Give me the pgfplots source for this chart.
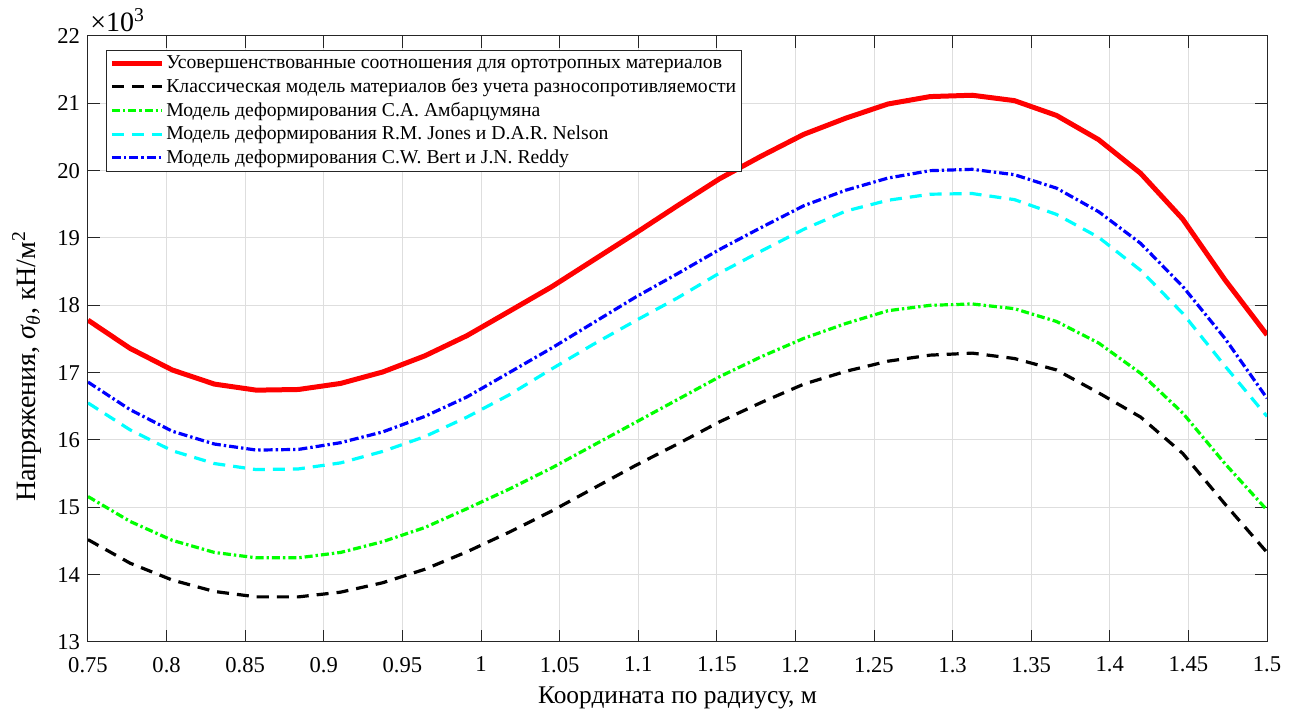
\documentclass[border=0pt]{standalone}
\usepackage{pgfplots}
\usepackage{pgfplotstable}
\pgfplotsset{compat=1.18}
\usepackage{fontspec}
\setmainfont{Liberation Serif}

\definecolor{mred}{rgb}{1,0,0}
\definecolor{mgreen}{rgb}{0,1,0}
\definecolor{mcyan}{rgb}{0,1,1}
\definecolor{mblue}{rgb}{0,0,1}

\pgfplotstableread{
x      red    black  green  cyan   blue
0.7500 17780  14520  15160  16550  16860
0.7768 17360  14170  14790  16150  16450
0.8036 17040  13920  14510  15840  16130
0.8304 16830  13750  14330  15650  15940
0.8571 16740  13670  14250  15560  15850
0.8839 16750  13670  14250  15570  15860
0.9107 16840  13740  14330  15660  15960
0.9375 17010  13880  14490  15830  16120
0.9643 17250  14080  14700  16050  16350
0.9911 17550  14340  14980  16340  16640
1.0179 17910  14630  15270  16670  17000
1.0446 18270  14940  15580  17050  17360
1.0714 18670  15280  15920  17420  17740
1.0982 19070  15620  16260  17770  18120
1.1250 19480  15940  16600  18110  18470
1.1518 19880  16270  16940  18480  18830
1.1786 20220  16560  17240  18810  19160
1.2054 20540  16830  17510  19130  19480
1.2321 20780  17020  17730  19400  19710
1.2589 20990  17170  17920  19560  19890
1.2857 21100  17260  18000  19650  20000
1.3125 21120  17290  18020  19660  20020
1.3393 21040  17210  17950  19570  19940
1.3661 20820  17040  17760  19350  19740
1.3929 20460  16700  17440  19010  19390
1.4196 19960  16340  16990  18520  18920
1.4464 19280  15800  16400  17880  18280
1.4732 18380  15050  15650  17100  17510
1.5000 17560  14330  14960  16350  16620
}\datatable

\begin{document}
\begin{tikzpicture}
\begin{axis}[
  scale only axis,
  width=589.5pt, height=303pt,
  xmin=0.75, xmax=1.5, ymin=13000, ymax=22000,
  xtick={0.75,0.8,0.85,0.9,0.95,1,1.05,1.1,1.15,1.2,1.25,1.3,1.35,1.4,1.45,1.5},
  xticklabels={0.75,0.8,0.85,0.9,0.95,1,1.05,1.1,1.15,1.2,1.25,1.3,1.35,1.4,1.45,1.5},
  ytick={13000,14000,15000,16000,17000,18000,19000,20000,21000,22000},
  yticklabels={13,14,15,16,17,18,19,20,21,22},
  scaled x ticks=false,
  scaled y ticks=false,
  tick label style={font=\fontsize{11.3}{13}\selectfont},
  xticklabel style={yshift=-4pt},
  yticklabel style={xshift=-0.5pt},
  xlabel style={font=\fontsize{12.7}{15}\selectfont, yshift=-0.5pt},
  ylabel style={font=\fontsize{14}{17}\selectfont, at={(ticklabel cs:0.455)}, yshift=1pt},
  xlabel={Координата по радиусу, м},
  ylabel={Напряжения, {\itshape σ}\textsubscript{\itshape θ}, кН/м\textsuperscript{2}},
  grid=major,
  major grid style={black!13, line width=0.5pt},
  axis line style={black!85, line width=0.5pt},
  major tick style={black!85, line width=0.5pt},
  major tick length=6pt,
  tick align=inside,
  legend cell align=left,
  legend style={at={(0.0151,0.977)}, anchor=north west, draw=black!85, line width=0.5pt,
    font=\fontsize{9.85}{12}\selectfont, inner sep=1.5pt, row sep=1.4pt,
    nodes={inner sep=1pt}},
  legend image code/.code={\draw[#1] (0pt,0pt) -- (25pt,0pt);},
]
\addplot[mred, line width=2.5pt] table[x=x, y=red] {\datatable};
\addlegendentry{Усовершенствованные соотношения для ортотропных материалов}
\addplot[black, line width=1.6pt, dash pattern=on 6pt off 4pt] table[x=x, y=black] {\datatable};
\addlegendentry{Классическая модель материалов без учета разносопротивляемости}
\addplot[mgreen, line width=1.6pt, dash pattern=on 4pt off 1.5pt on 1.2pt off 1.5pt] table[x=x, y=green] {\datatable};
\addlegendentry{Модель деформирования С.А. Амбарцумяна}
\addplot[mcyan, line width=1.6pt, dash pattern=on 6pt off 4pt] table[x=x, y=cyan] {\datatable};
\addlegendentry{Модель деформирования R.M. Jones и D.A.R. Nelson}
\addplot[mblue, line width=1.6pt, dash pattern=on 4.5pt off 1.5pt on 1.2pt off 1.5pt] table[x=x, y=blue] {\datatable};
\addlegendentry{Модель деформирования C.W. Bert и J.N. Reddy}
\coordinate (SW) at (rel axis cs:0,0);
\coordinate (NE) at (rel axis cs:1,1);
\coordinate (NW) at (rel axis cs:0,1);
\end{axis}
\node[anchor=base west, inner sep=0pt, font=\fontsize{14}{16}\selectfont] at ([xshift=1pt,yshift=2pt]NW) {×10\textsuperscript{3}};
\path (SW) ++(-44pt,-34pt) coordinate (BL);
\path (NE) ++(13pt,18pt) coordinate (TR);
\pgfresetboundingbox
\path[use as bounding box] (BL) rectangle (TR);
\end{tikzpicture}
\end{document}
